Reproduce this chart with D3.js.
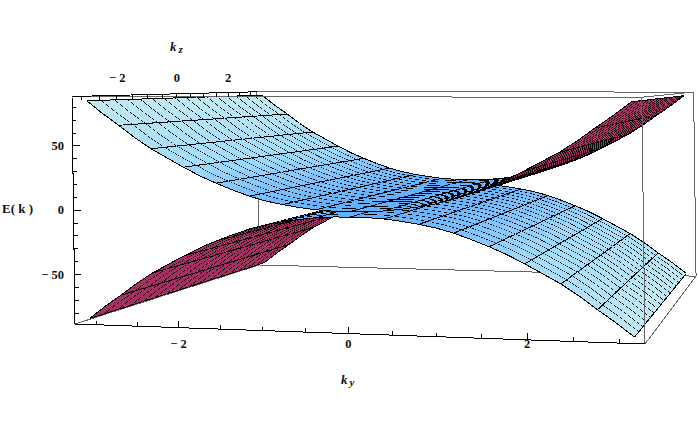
<!DOCTYPE html>
<html><head><meta charset="utf-8">
<style>html,body{margin:0;padding:0;background:#fff}svg{display:block}
text{font-family:"Liberation Serif",serif;font-weight:bold;fill:#111}</style>
<script src="https://cdn.jsdelivr.net/npm/d3@7"></script></head><body>
<svg id="c" width="698" height="431"></svg>
<script>
// ---- data ----
const kyNodes = [-3.142,-2.945,-2.749,-2.553,-2.356,-2.160,-1.963,-1.767,-1.571,-1.374,-1.178,-0.982,-0.785,-0.589,-0.393,-0.196,0,
                 0.196,0.393,0.589,0.785,0.982,1.178,1.374,1.571,1.767,1.963,2.160,2.356,2.553,2.749,2.945,3.142];
const upperE = [85,75,66,56.5,48,41,34,27.5,22,17,12.5,9,6.5,4.5,3,2.2,2,2.2,3,4.5,6.5,9,12.5,17,22,27.5,34,41,48,56.5,66,75,85];
const lowerE = [-85,-75,-66,-56.5,-48,-41,-34,-27.5,-22,-17,-12.5,-9,-6.5,-4.5,-3,-2.2,-2,-2.2,-3,-4.5,-6.5,-9,-12.5,-17,-22,-27.5,-34,-41,-48,-56.5,-66,-75,-85];
const kzNodes = [-3.142,-2.749,-2.356,-1.963,-1.571,-1.178,-0.785,-0.393,0,0.393,0.785,1.178,1.571,1.963,2.356,2.749,3.142];
const kyTicks = [-3,-2.5,-2,-1.5,-1,-0.5,0,0.5,1,1.5,2,2.5,3];
const kzTicks = [-3,-2.5,-2,-1.5,-1,-0.5,0,0.5,1,1.5,2,2.5,3];
const eTicks = [-80,-70,-60,-50,-40,-30,-20,-10,0,10,20,30,40,50,60,70,80];
const kyLabels = [-2,0,2], kzLabels = [-2,0,2], eLabels = [-50,0,50];

// ---- scales: value -> unit cube ----
const uS = d3.scaleLinear().domain([-3.267,3.267]).range([0,1]);
const vS = d3.scaleLinear().domain([-3.267,3.267]).range([0,1]);
const wS = d3.scaleLinear().domain([-88.4,88.4]).range([0,1]);
// perspective camera fitted to the plot box
const M = {xu:519.7,xv:265.2,xw:-3,x0:75, yu:-6.83,yv:24.05,yw:-227.5,y0:324, du:-0.078,dv:0.3134};
function cube(u,v,w){const d=1+M.du*u+M.dv*v;
  return [(M.xu*u+M.xv*v+M.xw*w+M.x0)/d,(M.yu*u+M.yv*v+M.yw*w+M.y0)/d,d];}
const proj=(ky,kz,e)=>cube(uS(ky),vS(kz),wS(e));

const svg=d3.select("#c");
const line=d3.line();
const blue=d3.scaleLinear().domain([0,12,35,85]).range(["#5cadff","#7cc0ff","#a3dcfc","#c3e9f2"]);
const MAG="#a62f62", GREY="#666", INK="#000";
function seg(g,a,b,col){g.append("path").attr("d",line([a.slice(0,2),b.slice(0,2)]))
  .attr("fill","none").attr("stroke",col).attr("stroke-width",1).attr("shape-rendering","crispEdges");}

// back of the box
const back=svg.append("g");
const corner=(u,v,w)=>cube(u,v,w);
seg(back,corner(0,1,0),corner(1,1,0),GREY);
seg(back,corner(0,1,0),corner(0,1,1),GREY);
seg(back,corner(1,1,0),corner(1,1,1),GREY);
seg(back,corner(0,1,1),corner(1,1,1),GREY);
seg(back,corner(0,0,0),corner(0,1,0),GREY);

// surfaces: painter's algorithm on projected cells
const cells=[];
[upperE,lowerE].forEach(E=>{
  for(let i=0;i<kyNodes.length-1;i++)for(let j=0;j<kzNodes.length-1;j++){
    const p=[proj(kyNodes[i],kzNodes[j],E[i]),proj(kyNodes[i+1],kzNodes[j],E[i+1]),
             proj(kyNodes[i+1],kzNodes[j+1],E[i+1]),proj(kyNodes[i],kzNodes[j+1],E[i])];
    let area=0;for(let q=0;q<4;q++){const a=p[q],b=p[(q+1)%4];area+=a[0]*b[1]-b[0]*a[1];}
    cells.push({p,area,depth:d3.mean(p,d=>d[2]),i,j,last:i===kyNodes.length-2,lastJ:j===kzNodes.length-2,
      e:(Math.abs(E[i])+Math.abs(E[i+1]))/2});
  }});
cells.sort((a,b)=>b.depth-a.depth);
const surf=svg.append("g");
cells.forEach(c=>{
  const g=surf.append("g");
  // top side of a surface winds one way on screen, underside the other
  const col=c.area<0?blue(c.e):MAG;
  g.append("path").attr("d",line(c.p.map(d=>d.slice(0,2)))+"Z").attr("fill",col).attr("shape-rendering","crispEdges");
  seg(g,c.p[0],c.p[1],INK);
  if(c.lastJ)seg(g,c.p[3],c.p[2],INK);
  if(c.i%2===0)seg(g,c.p[0],c.p[3],INK);
  if(c.last)seg(g,c.p[1],c.p[2],INK);
});

// front of the box
const front=svg.append("g");
seg(front,corner(1,0,0),corner(1,0,1),GREY);
seg(front,corner(1,0,0),corner(1,1,0),GREY);
seg(front,corner(0,0,1),corner(1,0,1),GREY);
seg(front,corner(0,0,1),corner(0,1,1),GREY);
seg(front,corner(1,0,1),corner(1,1,1),GREY);

// axes
const ax=svg.append("g");
seg(ax,corner(0,0,0),corner(1,0,0),INK);
seg(ax,corner(0,0,0),corner(0,0,1),INK);
seg(ax,corner(0,0,1),corner(0,1,1),INK);
kyTicks.forEach(t=>{const p=cube(uS(t),0,0),L=kyLabels.includes(t)?7:4;seg(ax,p,[p[0],p[1]-L],INK);});
eTicks.forEach(t=>{const p=cube(0,0,wS(t)),L=eLabels.includes(t)?7:4;seg(ax,p,[p[0]+L,p[1]],INK);});
kzTicks.forEach(t=>{const p=cube(0,vS(t),1);seg(ax,p,[p[0],p[1]+4],INK);});

const fmt=t=>t<0?"\u2212 "+(-t):String(t);
const txt=(x,y,s,anc,size)=>svg.append("text").attr("x",x).attr("y",y).attr("text-anchor",anc||"middle").attr("font-size",size||12.5).text(s);
kyLabels.forEach(t=>{const p=cube(uS(t),0,0);txt(p[0],348,fmt(t));});
kzLabels.forEach(t=>{const p=cube(0,vS(t),1);txt(p[0]-(t<0?-1:0),82,fmt(t));});
eLabels.forEach(t=>{const p=cube(0,0,wS(t));txt(64,p[1]+4,fmt(t),"end");});

svg.append("text").attr("x",2).attr("y",213).attr("font-size",13).attr("xml:space","preserve").attr("style","white-space:pre").text("E( k )");
function sub(x,y,a,b){const t=svg.append("text").attr("x",x).attr("y",y).attr("font-size",13).attr("font-style","italic");
  t.append("tspan").text(a);t.append("tspan").attr("dx",2).attr("dy",2).attr("font-size",11).text(b);}
sub(170,51,"k","z");
sub(341,384,"k","y");
</script></body></html>
